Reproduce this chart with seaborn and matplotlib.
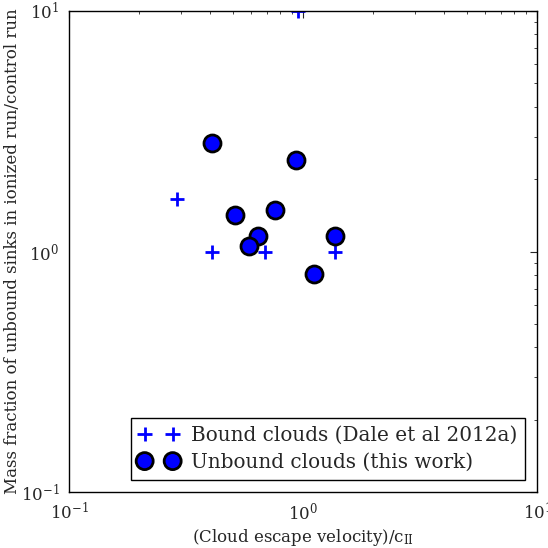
import numpy as np
import pandas as pd
import seaborn as sns
import matplotlib.pyplot as plt

# bound clouds (Dale et al 2012a)
bound_x = [0.29, 0.41, 0.69, 1.37, 0.95]
bound_y = [1.66, 1.0, 1.0, 1.0, 10.0]

# unbound clouds (this work)
unbound_x = [0.41, 0.93, 0.51, 0.76, 0.64, 0.59, 1.37, 1.11]
unbound_y = [2.83, 2.40, 1.42, 1.49, 1.16, 1.05, 1.16, 0.81]

sns.set_style('white')
plt.rcParams['font.family'] = ['DejaVu Serif']
plt.rcParams['mathtext.fontset'] = 'dejavuserif'

bound = pd.DataFrame({'x': bound_x, 'y': bound_y})
unbound = pd.DataFrame({'x': unbound_x, 'y': unbound_y})

fig, ax = plt.subplots(figsize=(5.48, 5.48), dpi=100)
fig.subplots_adjust(left=0.126, right=0.98, top=0.98, bottom=0.102)

sns.scatterplot(data=bound, x='x', y='y', ax=ax, marker='+', s=110,
                color='blue', linewidth=2, label='Bound clouds (Dale et al 2012a)')
sns.scatterplot(data=unbound, x='x', y='y', ax=ax, marker='o', s=150,
                color='blue', edgecolor='black', linewidth=2,
                label='Unbound clouds (this work)')

ax.set_xscale('log')
ax.set_yscale('log')
ax.set_xlim(0.1, 10)
ax.set_ylim(0.1, 10)
ax.set_xlabel(r'(Cloud escape velocity)/c$_{\rm II}$', fontsize=12, labelpad=2)
ax.set_ylabel('Mass fraction of unbound sinks in ionized run/control run',
              fontsize=12)
ax.yaxis.set_label_coords(-0.102, 0.5)

ax.tick_params(which='both', direction='in', top=True, right=True, labelsize=12)
ax.tick_params(which='major', length=5, width=0.8, pad=7)
ax.tick_params(which='minor', length=2.5, width=0.6)
for sp in ax.spines.values():
    sp.set_color('black')
    sp.set_linewidth(1.0)

ax.legend(loc='lower right', scatterpoints=2, numpoints=2,
          scatteryoffsets=[0.5, 0.5], fontsize=14.4,
          frameon=True, fancybox=False, edgecolor='black', framealpha=1,
          handlelength=2, handletextpad=0.6, borderpad=0.4, labelspacing=0.4,
          borderaxespad=0.6)

fig.savefig('out.png', dpi=100)
